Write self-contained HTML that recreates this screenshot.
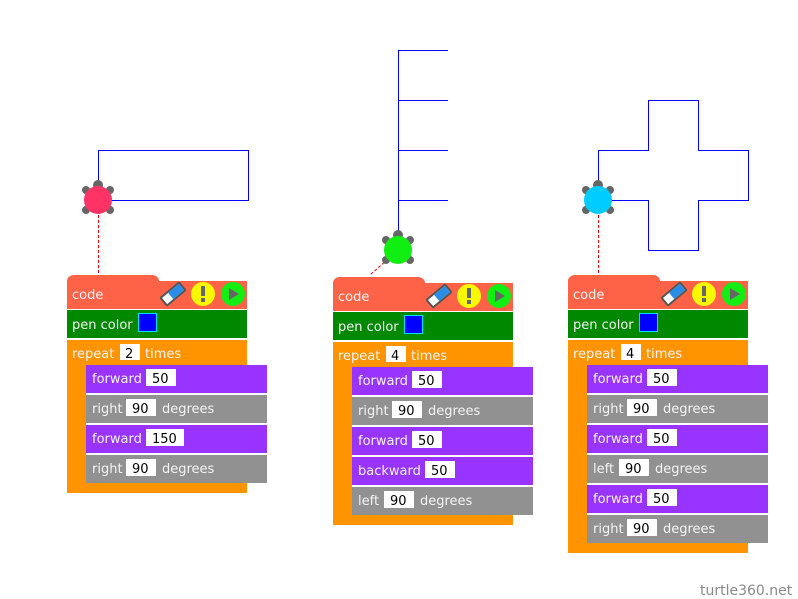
<!DOCTYPE html>
<html><head><meta charset="utf-8"><style>
html,body{margin:0;padding:0;background:#fff;width:798px;height:599px;overflow:hidden}
svg text{font-family:"DejaVu Sans","Liberation Sans",sans-serif;font-size:13px}
.w{fill:#f4f4f4}.k{fill:#000}
</style></head><body>
<svg width="798" height="599" viewBox="0 0 798 599" xmlns="http://www.w3.org/2000/svg">
<defs>
<g id="icons">
  <g transform="translate(106,13) rotate(-40)">
    <rect x="-13" y="-6" width="26" height="12" rx="2" fill="#555"/>
    <rect x="-11" y="-4" width="22" height="8" fill="#fff"/>
    <rect x="-3" y="-4" width="14" height="8" fill="#2a8ee8"/>
  </g>
  <circle cx="136" cy="13" r="12" fill="#f8f800"/>
  <rect x="134" y="5" width="4" height="10" fill="#666"/>
  <rect x="134" y="17" width="4" height="4" fill="#666"/>
  <circle cx="166" cy="13" r="12" fill="#11ee11"/>
  <polygon points="162,7 172,13 162,19" fill="#666"/>
</g>
<g id="head">
  <rect x="0" y="-6" width="92" height="12" rx="7" fill="#ff6347"/>
  <rect x="0" y="0" width="180" height="28" fill="#ff6347"/>
  <text x="5" y="18" class="w">code</text>
  <use href="#icons"/>
  <rect x="0" y="29" width="180" height="28" fill="#008800"/>
  <text x="5" y="48" class="w">pen color</text>
  <rect x="71.5" y="32.5" width="18" height="18" fill="#0000ff" stroke="#00e0ff"/>
  <rect x="0" y="59" width="180" height="25" fill="#ff9400"/>
  <text x="5" y="77" class="w">repeat</text>
  <rect x="53" y="63" width="20" height="16" fill="#fff"/>
</g>
<g id="turtle" fill="#666">
  <circle cx="0" cy="-15" r="5"/>
  <circle cx="-12" cy="-10" r="4"/>
  <circle cx="12" cy="-10" r="4"/>
  <circle cx="-12" cy="10" r="4"/>
  <circle cx="12" cy="10" r="4"/>
</g>
</defs>

<g fill="none" stroke="#0000ff" stroke-width="1">
<polyline points="98.5,200.5 98.5,150.5 248.5,150.5 248.5,200.5 98.5,200.5"/>
<path d="M398.5,250V50.5H448M398.5,100.5H448M398.5,150.5H448M398.5,200.5H448"/>
<polyline points="598.5,200.5 598.5,150.5 648.5,150.5 648.5,100.5 698.5,100.5 698.5,150.5 748.5,150.5 748.5,200.5 698.5,200.5 698.5,250.5 648.5,250.5 648.5,200.5 598.5,200.5"/>
</g>

<line x1="98.5" y1="210" x2="98.5" y2="276" stroke="#ff0000" stroke-dasharray="3,2"/>
<line x1="388" y1="259" x2="370" y2="275" stroke="#ff0000" stroke-dasharray="3,2"/>
<line x1="598.5" y1="210" x2="598.5" y2="276" stroke="#ff0000" stroke-dasharray="3,2"/>

<g transform="translate(98,200)"><use href="#turtle"/><circle r="14" fill="#ff3366"/></g>
<g transform="translate(398,250)"><use href="#turtle"/><circle r="14" fill="#11ee11"/></g>
<g transform="translate(598,200)"><use href="#turtle"/><circle r="14" fill="#00ccff"/></g>

<!-- block 1 -->
<g transform="translate(67,281)">
  <use href="#head"/>
  <text x="58" y="77" class="k">2</text>
  <text x="78" y="77" class="w">times</text>
  <rect x="0" y="84" width="19" height="128" fill="#ff9400"/>
  <rect x="0" y="202" width="180" height="10" fill="#ff9400"/>
  <rect x="19" y="84" width="181" height="28" fill="#9933ff"/>
  <text x="25" y="102" class="w">forward</text><rect x="79" y="88" width="30" height="17" fill="#fff"/><text x="85" y="102" class="k">50</text>
  <rect x="19" y="114" width="181" height="28" fill="#919191"/>
  <text x="25" y="132" class="w">right</text><rect x="59" y="118" width="30" height="17" fill="#fff"/><text x="65" y="132" class="k">90</text><text x="95" y="132" class="w">degrees</text>
  <rect x="19" y="144" width="181" height="28" fill="#9933ff"/>
  <text x="25" y="162" class="w">forward</text><rect x="79" y="148" width="38" height="17" fill="#fff"/><text x="85" y="162" class="k">150</text>
  <rect x="19" y="174" width="181" height="28" fill="#919191"/>
  <text x="25" y="192" class="w">right</text><rect x="59" y="178" width="30" height="17" fill="#fff"/><text x="65" y="192" class="k">90</text><text x="95" y="192" class="w">degrees</text>
</g>

<!-- block 2 -->
<g transform="translate(333,283)">
  <use href="#head"/>
  <text x="58" y="77" class="k">4</text>
  <text x="78" y="77" class="w">times</text>
  <rect x="0" y="84" width="19" height="158" fill="#ff9400"/>
  <rect x="0" y="232" width="180" height="10" fill="#ff9400"/>
  <rect x="19" y="84" width="181" height="28" fill="#9933ff"/>
  <text x="25" y="102" class="w">forward</text><rect x="79" y="88" width="30" height="17" fill="#fff"/><text x="85" y="102" class="k">50</text>
  <rect x="19" y="114" width="181" height="28" fill="#919191"/>
  <text x="25" y="132" class="w">right</text><rect x="59" y="118" width="30" height="17" fill="#fff"/><text x="65" y="132" class="k">90</text><text x="95" y="132" class="w">degrees</text>
  <rect x="19" y="144" width="181" height="28" fill="#9933ff"/>
  <text x="25" y="162" class="w">forward</text><rect x="79" y="148" width="30" height="17" fill="#fff"/><text x="85" y="162" class="k">50</text>
  <rect x="19" y="174" width="181" height="28" fill="#9933ff"/>
  <text x="25" y="192" class="w">backward</text><rect x="92" y="178" width="30" height="17" fill="#fff"/><text x="98" y="192" class="k">50</text>
  <rect x="19" y="204" width="181" height="28" fill="#919191"/>
  <text x="25" y="222" class="w">left</text><rect x="51" y="208" width="30" height="17" fill="#fff"/><text x="57" y="222" class="k">90</text><text x="87" y="222" class="w">degrees</text>
</g>

<!-- block 3 -->
<g transform="translate(568,281)">
  <use href="#head"/>
  <text x="58" y="77" class="k">4</text>
  <text x="78" y="77" class="w">times</text>
  <rect x="0" y="84" width="19" height="188" fill="#ff9400"/>
  <rect x="0" y="262" width="180" height="10" fill="#ff9400"/>
  <rect x="19" y="84" width="181" height="28" fill="#9933ff"/>
  <text x="25" y="102" class="w">forward</text><rect x="79" y="88" width="30" height="17" fill="#fff"/><text x="85" y="102" class="k">50</text>
  <rect x="19" y="114" width="181" height="28" fill="#919191"/>
  <text x="25" y="132" class="w">right</text><rect x="59" y="118" width="30" height="17" fill="#fff"/><text x="65" y="132" class="k">90</text><text x="95" y="132" class="w">degrees</text>
  <rect x="19" y="144" width="181" height="28" fill="#9933ff"/>
  <text x="25" y="162" class="w">forward</text><rect x="79" y="148" width="30" height="17" fill="#fff"/><text x="85" y="162" class="k">50</text>
  <rect x="19" y="174" width="181" height="28" fill="#919191"/>
  <text x="25" y="192" class="w">left</text><rect x="51" y="178" width="30" height="17" fill="#fff"/><text x="57" y="192" class="k">90</text><text x="87" y="192" class="w">degrees</text>
  <rect x="19" y="204" width="181" height="28" fill="#9933ff"/>
  <text x="25" y="222" class="w">forward</text><rect x="79" y="208" width="30" height="17" fill="#fff"/><text x="85" y="222" class="k">50</text>
  <rect x="19" y="234" width="181" height="28" fill="#919191"/>
  <text x="25" y="252" class="w">right</text><rect x="59" y="238" width="30" height="17" fill="#fff"/><text x="65" y="252" class="k">90</text><text x="95" y="252" class="w">degrees</text>
</g>

<text x="700" y="595" style="font-size:14px;fill:#8a8a8a">turtle360.net</text>
</svg>
</body></html>
